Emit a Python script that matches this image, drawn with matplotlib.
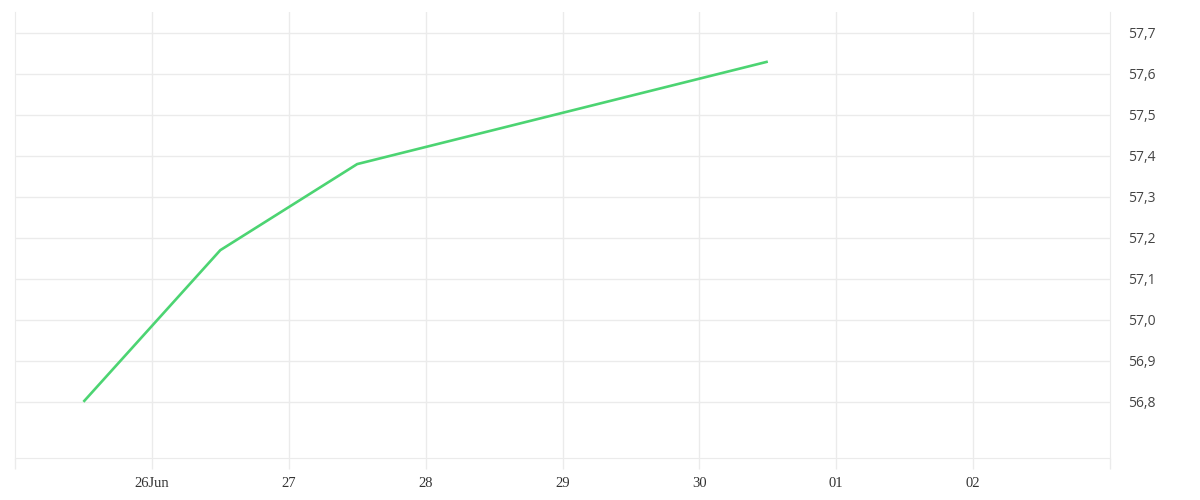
import matplotlib
matplotlib.use('Agg')
from matplotlib import pyplot as plt
import pandas as pd

# Dados
datas = pd.to_datetime(['2024-06-25 12:00', '2024-06-26 12:00', '2024-06-27 12:00', '2024-06-30 12:00'])
valores = [56.80, 57.17, 57.38, 57.63]

ticks_x = pd.to_datetime(['2024-06-26', '2024-06-27', '2024-06-28', '2024-06-29',
                          '2024-06-30', '2024-07-01', '2024-07-02'])
rotulos_x = ['26Jun', '27', '28', '29', '30', '01', '02']
ticks_y = [56.8, 56.9, 57.0, 57.1, 57.2, 57.3, 57.4, 57.5, 57.6, 57.7]

cor_grade = '#ebebeb'

fig = plt.figure(figsize=(12, 5), dpi=100)
ax = fig.add_axes([0.0125, 0.084, 0.9125, 0.892])

ax.plot(datas, valores, color='#4cd472', lw=1.9, solid_capstyle='butt')

inicio = pd.Timestamp('2024-06-25')
fim = pd.Timestamp('2024-07-03')
ax.set_xlim(inicio, fim)
ax.set_ylim(56.663, 57.751)

ax.set_xticks(ticks_x)
ax.set_xticklabels(rotulos_x, family='Liberation Serif', fontsize=10.5, color='#333333')
ax.set_xticks([inicio, fim], minor=True)
ax.tick_params(axis='x', which='both', length=8, width=1, color=cor_grade, pad=6)

ax.yaxis.tick_right()
ax.set_yticks(ticks_y)
ax.set_yticklabels([f'{v:.1f}'.replace('.', ',') for v in ticks_y],
                   family='Open Sans', fontsize=10, color='#444444')
ax.tick_params(axis='y', length=0, pad=13)

ax.grid(True, color=cor_grade, lw=1)
for lado in ['left', 'right', 'bottom']:
    ax.spines[lado].set_color(cor_grade)
ax.spines['top'].set_visible(False)
ax.set_axisbelow(True)

fig.savefig('out.png', dpi=100)
